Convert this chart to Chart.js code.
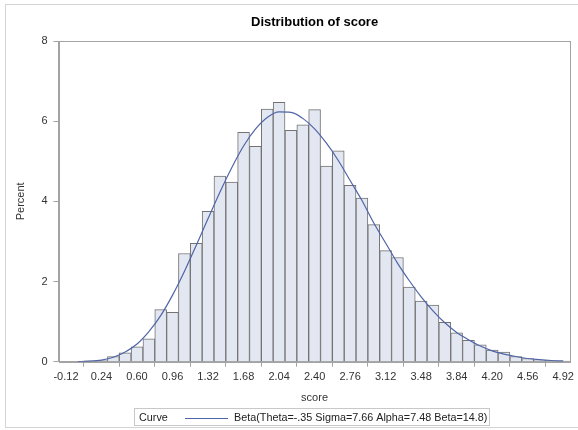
<!DOCTYPE html>
<html>
<head>
<meta charset="utf-8">
<title>Distribution of score</title>
<script src="https://cdn.jsdelivr.net/npm/chart.js@4.4.1/dist/chart.umd.min.js"></script>
<style>
  html, body { margin: 0; padding: 0; background: #fff; }
  #wrap { position: relative; width: 578px; height: 430px; }
</style>
</head>
<body>
<div id="wrap"><canvas id="chart" width="578" height="430"></canvas></div>
<script>
// histogram bins (midpoints) and percent per bin
const binMids = [-0.12, 0.00, 0.12, 0.24, 0.36, 0.48, 0.60, 0.72, 0.84, 0.96,
  1.08, 1.20, 1.32, 1.44, 1.56, 1.68, 1.80, 1.92, 2.04, 2.16,
  2.28, 2.40, 2.52, 2.64, 2.76, 2.88, 3.00, 3.12, 3.24, 3.36,
  3.48, 3.60, 3.72, 3.84, 3.96, 4.08, 4.20, 4.32, 4.44, 4.56,
  4.68, 4.80, 4.92];
const binPercent = [0, 0, 0.02, 0.03, 0.13, 0.22, 0.37, 0.57, 1.30, 1.23,
  2.70, 2.95, 3.75, 4.63, 4.48, 5.72, 5.37, 6.30, 6.47, 5.77,
  5.91, 6.29, 4.88, 5.26, 4.40, 4.08, 3.42, 2.77, 2.60, 1.86,
  1.51, 1.41, 0.98, 0.72, 0.53, 0.42, 0.29, 0.24, 0.13, 0.08,
  0.04, 0.025, 0.017];

// fitted beta curve
const curveScore = [0.00, 0.12, 0.24, 0.36, 0.48, 0.60, 0.72, 0.84, 0.96,
  1.08, 1.20, 1.32, 1.44, 1.56, 1.68, 1.80, 1.92, 2.04, 2.16,
  2.28, 2.40, 2.52, 2.64, 2.76, 2.88, 3.00, 3.12, 3.24, 3.36,
  3.48, 3.60, 3.72, 3.84, 3.96, 4.08, 4.20, 4.32, 4.44, 4.56,
  4.68, 4.80, 4.92];
const curvePercent = [0.002, 0.012, 0.04, 0.11, 0.24, 0.44, 0.75, 1.15, 1.66,
  2.25, 2.90, 3.57, 4.23, 4.84, 5.38, 5.80, 6.09, 6.23, 6.22,
  6.07, 5.81, 5.45, 5.02, 4.52, 4.02, 3.46, 2.96, 2.46, 2.02,
  1.62, 1.27, 0.97, 0.73, 0.55, 0.39, 0.27, 0.19, 0.13, 0.08,
  0.05, 0.03, 0.019];

const xTicks = [-0.12, 0.24, 0.60, 0.96, 1.32, 1.68, 2.04, 2.40, 2.76, 3.12, 3.48, 3.84, 4.20, 4.56, 4.92];
const yTicks = [0, 2, 4, 6, 8];

const curveLabel = "Beta(Theta=-.35 Sigma=7.66 Alpha=7.48 Beta=14.8)";
const axisGray = "#a3a3a3";
const curveColor = "#5065a6";
const fontFamily = '"Liberation Sans", Arial, sans-serif';

Chart.defaults.font.family = fontFamily;
Chart.defaults.font.size = 11;
Chart.defaults.color = "#333";

// page frame, plot frame, title and legend
const decorPlugin = {
  id: "decor",
  beforeDraw(chart) {
    const ctx = chart.ctx;
    ctx.save();
    ctx.fillStyle = "#fff";
    ctx.fillRect(0, 0, chart.width, chart.height);
    ctx.strokeStyle = "#d4d4d4";
    ctx.lineWidth = 1;
    ctx.strokeRect(5.5, 4.5, chart.width, 423);
    ctx.restore();
  },
  afterDraw(chart) {
    const ctx = chart.ctx;
    const a = chart.chartArea;
    ctx.save();
    ctx.strokeStyle = axisGray;
    ctx.lineWidth = 1;
    ctx.strokeRect(Math.round(a.left) + 0.5, Math.round(a.top) + 0.5,
      Math.round(a.right - a.left) - 1, Math.round(a.bottom - a.top));

    ctx.fillStyle = "#000";
    ctx.font = "bold 13px " + fontFamily;
    ctx.textAlign = "center";
    ctx.textBaseline = "middle";
    ctx.fillText("Distribution of score", (a.left + a.right) / 2, 22);

    // legend
    ctx.strokeStyle = "#c8c8c8";
    ctx.strokeRect(134.5, 408.5, 355, 17);
    ctx.font = "10.8px " + fontFamily;
    ctx.textAlign = "left";
    ctx.fillStyle = "#222";
    ctx.fillText("Curve", 139, 418);
    ctx.strokeStyle = curveColor;
    ctx.lineWidth = 1.2;
    ctx.beginPath();
    ctx.moveTo(185, 418.5);
    ctx.lineTo(228, 418.5);
    ctx.stroke();
    ctx.fillText(curveLabel, 234, 418);
    ctx.restore();
  }
};

new Chart(document.getElementById("chart"), {
  type: "bar",
  data: {
    datasets: [
      {
        type: "line",
        label: curveLabel,
        data: curveScore.map((x, i) => ({ x: x, y: curvePercent[i] })),
        borderColor: curveColor,
        borderWidth: 1.2,
        pointRadius: 0,
        cubicInterpolationMode: "monotone",
        fill: false,
        order: 0
      },
      {
        label: "Percent",
        data: binMids.map((x, i) => ({ x: x, y: binPercent[i] })),
        backgroundColor: "#e2e7f1",
        borderColor: "#737373",
        borderWidth: 1,
        barPercentage: 1,
        categoryPercentage: 1,
        order: 1
      }
    ]
  },
  options: {
    responsive: false,
    animation: false,
    layout: { padding: { top: 41, right: 6, left: 0, bottom: 0 } },
    plugins: {
      legend: { display: false },
      title: { display: false },
      tooltip: { enabled: false }
    },
    scales: {
      x: {
        type: "linear",
        min: -0.196,
        max: 4.995,
        offset: false,
        afterBuildTicks: (s) => { s.ticks = xTicks.map((v) => ({ value: v })); },
        afterFit: (s) => { s.height = 68.3; },
        ticks: {
          autoSkip: false,
          maxRotation: 0,
          padding: 4,
          color: "#333",
          callback: (v) => Number(v).toFixed(2)
        },
        grid: { drawOnChartArea: false, drawTicks: true, tickLength: 5, color: axisGray },
        border: { display: true, color: axisGray },
        title: { display: true, text: "score", color: "#333", padding: { top: 0, bottom: 25 } }
      },
      y: {
        min: 0,
        max: 8,
        afterBuildTicks: (s) => { s.ticks = yTicks.map((v) => ({ value: v })); },
        afterFit: (s) => { s.width = 58.5; },
        ticks: { padding: 6, color: "#333" },
        grid: { drawOnChartArea: false, drawTicks: true, tickLength: 5, color: axisGray },
        border: { display: true, color: axisGray },
        title: { display: true, text: "Percent", color: "#333", padding: { top: 14, bottom: 0 } }
      }
    }
  },
  plugins: [decorPlugin]
});
</script>
</body>
</html>
